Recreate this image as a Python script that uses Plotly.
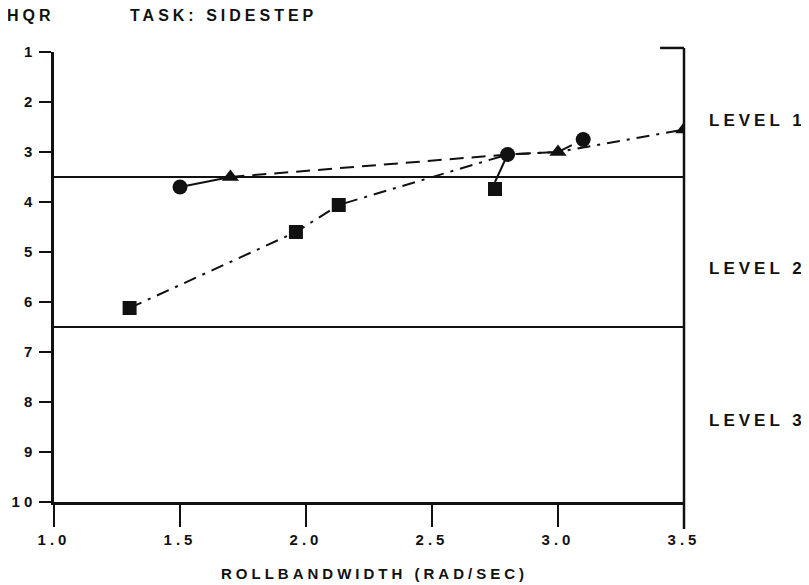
import plotly.graph_objects as go

# Data
circle_x = [1.5, 2.8, 3.1]
circle_y = [3.7, 3.05, 2.75]
triangle_x = [1.7, 3.0, 3.5]
triangle_y = [3.5, 3.0, 2.55]
square_x = [1.3, 1.96, 2.13, 2.75]
square_y = [6.12, 4.6, 4.06, 3.74]

solid_x = [1.5, 1.7]
solid_y = [3.7, 3.5]
dashed_x = [1.7, 2.8, 3.0, 3.1]
dashed_y = [3.5, 3.05, 3.0, 2.75]
dashdot_x = [1.3, 1.96, 2.13, 2.8, 3.0, 3.5]
dashdot_y = [6.12, 4.6, 4.06, 3.05, 3.0, 2.55]
arrow_x = [2.75, 2.8]
arrow_y = [3.6, 3.05]

level_bounds = [3.5, 6.5]
x_ticks = [1.0, 1.5, 2.0, 2.5, 3.0, 3.5]
x_tick_labels = ["1.0", "1.5", "2.0", "2.5", "3.0", "3.5"]
y_ticks = list(range(1, 11))
level_labels = ["LEVEL 1", "LEVEL 2", "LEVEL 3"]
level_label_y = [2.36, 5.32, 8.36]

BLK = "#111111"
fig = go.Figure()

line_style = dict(color=BLK, width=2)
fig.add_trace(go.Scatter(x=solid_x, y=solid_y, mode="lines", line=line_style))
fig.add_trace(go.Scatter(x=dashed_x, y=dashed_y, mode="lines",
                         line=dict(color=BLK, width=2, dash="14px,8px")))
fig.add_trace(go.Scatter(x=dashdot_x, y=dashdot_y, mode="lines",
                         line=dict(color=BLK, width=2, dash="13px,7px,3px,7px")))
fig.add_trace(go.Scatter(x=arrow_x, y=arrow_y, mode="lines", line=line_style))

for yb in level_bounds:
    fig.add_trace(go.Scatter(x=[x_ticks[0], x_ticks[-1]], y=[yb, yb], mode="lines",
                             line=dict(color=BLK, width=2)))

fig.add_trace(go.Scatter(x=circle_x, y=circle_y, mode="markers",
                         marker=dict(symbol="circle", size=15, color=BLK)))
fig.add_trace(go.Scatter(x=triangle_x, y=triangle_y, mode="markers",
                         marker=dict(symbol="triangle-up", size=15, color=BLK)))
fig.add_trace(go.Scatter(x=square_x, y=square_y, mode="markers",
                         marker=dict(symbol="square", size=14, color=BLK)))

font = dict(family="Liberation Sans, Arial, sans-serif", color=BLK, size=15, weight="bold")

for lab, ly in zip(level_labels, level_label_y):
    fig.add_annotation(x=1.0, xref="paper", xanchor="left", xshift=37, y=ly, yref="y",
                       text=lab, showarrow=False, font=dict(font, size=17))

fig.add_annotation(xref="paper", yref="paper", x=-0.036, y=1.082, xanchor="center",
                   yanchor="middle", text="HQR", showarrow=False, font=dict(font, size=16))
fig.add_annotation(xref="paper", yref="paper", x=0.27, y=1.082, xanchor="center",
                   yanchor="middle", text="TASK: SIDESTEP", showarrow=False, font=dict(font, size=16))
fig.add_annotation(xref="paper", yref="paper", x=0.508, y=-0.158, xanchor="center",
                   yanchor="middle", text="ROLLBANDWIDTH (RAD/SEC)", showarrow=False, font=font)

# right frame line with top stub
fig.add_shape(type="line", xref="paper", yref="paper", x0=1, x1=1, y0=-0.06, y1=1.009,
              line=dict(color=BLK, width=2.5))
fig.add_shape(type="line", xref="paper", yref="paper", x0=0.962, x1=1, y0=1.009, y1=1.009,
              line=dict(color=BLK, width=2.5))

fig.update_layout(
    width=809, height=585,
    margin=dict(l=46, r=133, t=44, b=91),
    paper_bgcolor="white", plot_bgcolor="white",
    showlegend=False,
    font=font,
    xaxis=dict(range=[1.0, 3.5], tickvals=x_ticks, ticktext=x_tick_labels,
               showgrid=False, zeroline=False, showline=True, linecolor=BLK, linewidth=2.5,
               ticks="outside", ticklen=22, tickwidth=2, tickcolor=BLK,
               tickfont=font, automargin=False),
    yaxis=dict(range=[10, 1], tickvals=y_ticks, ticktext=[str(v) for v in y_ticks],
               showgrid=False, zeroline=False, showline=True, linecolor=BLK, linewidth=2.5,
               ticks="outside", ticklen=12, tickwidth=2, tickcolor=BLK,
               tickfont=font, automargin=False),
)

spacing_js = (
    "document.querySelectorAll('.main-svg text').forEach(function(t){"
    "t.style.letterSpacing='4px';});"
)
fig.write_html("out.html", post_script=spacing_js)
